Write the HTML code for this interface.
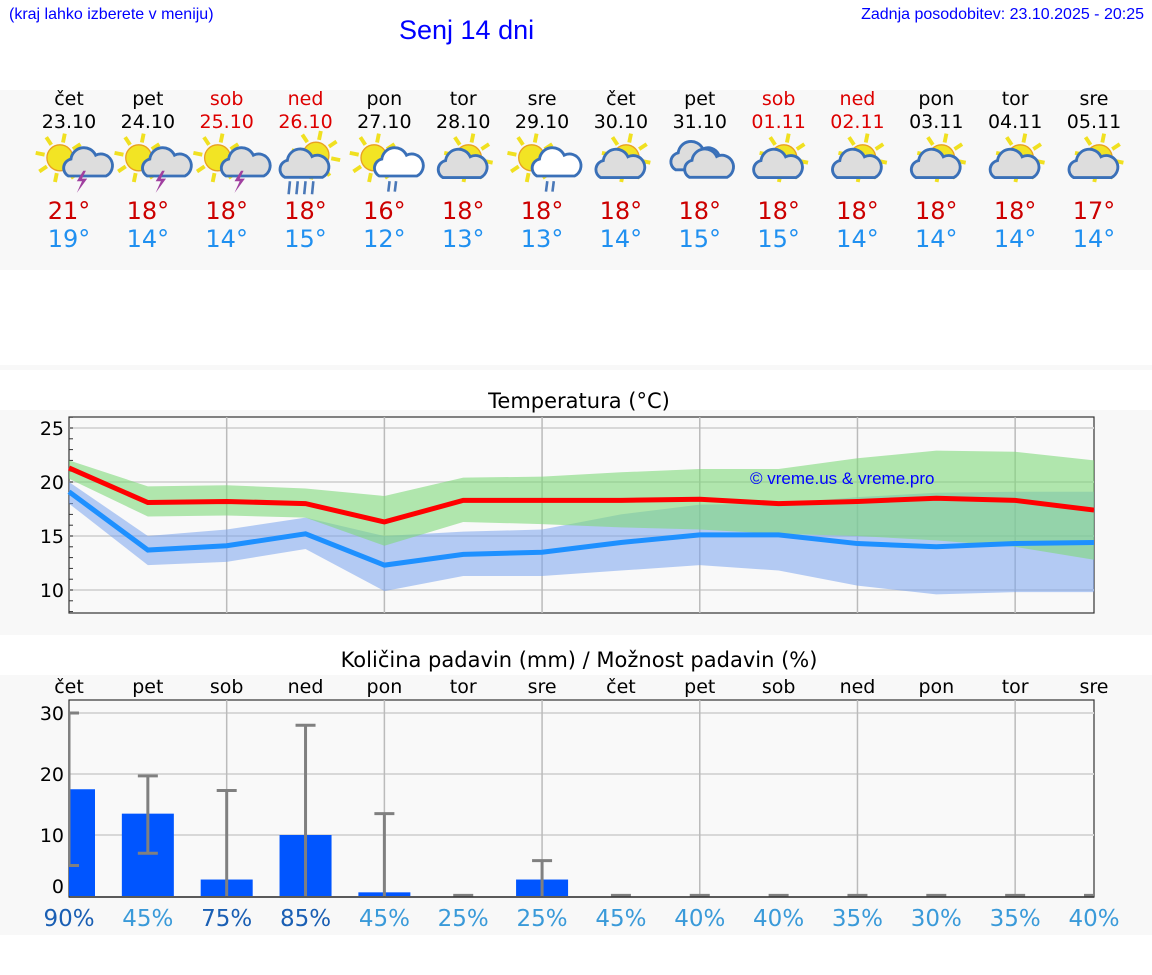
<!DOCTYPE html>
<html><head><meta charset="utf-8"><style>
body{margin:0;width:1152px;height:975px;background:#fff;font-family:"DejaVu Sans","Liberation Sans",sans-serif;position:relative;overflow:hidden}
.a{position:absolute}
.band{position:absolute;left:0;width:1152px;background:#f8f8f8}
.col{position:absolute;width:78px;text-align:center;transform:translateX(-39px)}
</style></head><body>
<div class="a" style="left:9px;top:6px;font-size:16px;color:#00f;font-family:'Liberation Sans',sans-serif">(kraj lahko izberete v meniju)</div>
<div class="a" style="left:399px;top:15px;font-size:27px;color:#00f;font-family:'Liberation Sans',sans-serif">Senj 14 dni</div>
<div class="a" style="right:8px;top:6px;font-size:16px;color:#00f;font-family:'Liberation Sans',sans-serif">Zadnja posodobitev: 23.10.2025 - 20:25</div>
<div class="band" style="top:90px;height:180px"></div>
<div class="band" style="top:365px;height:5px"></div>
<div class="band" style="top:410px;height:225px"></div>
<div class="band" style="top:675px;height:260px"></div>
<div id="days"></div>
<svg class="a" style="left:0;top:0" width="1152" height="975" id="svg"></svg>
<script>
const dayNames=["čet","pet","sob","ned","pon","tor","sre","čet","pet","sob","ned","pon","tor","sre"];
const dates=["23.10","24.10","25.10","26.10","27.10","28.10","29.10","30.10","31.10","01.11","02.11","03.11","04.11","05.11"];
const weekend=[0,0,1,1,0,0,0,0,0,1,1,0,0,0];
const icons=["st","st","st","cr","cr2","c","cr2","c","cc","c","c","c","c","c"];
const hiTemps=[21,18,18,18,16,18,18,18,18,18,18,18,18,17];
const loTemps=[19,14,14,15,12,13,13,14,15,15,14,14,14,14];
const maxT=[21.3,18.1,18.2,18.0,16.3,18.3,18.3,18.3,18.4,18.0,18.2,18.5,18.3,17.4];
const minT=[19.1,13.7,14.1,15.2,12.3,13.3,13.5,14.4,15.1,15.1,14.3,14.0,14.3,14.4];
const maxBandHi=[22.0,19.6,19.7,19.4,18.7,20.4,20.5,20.9,21.2,21.2,22.2,22.9,22.8,22.0];
const maxBandLo=[20.3,16.8,16.9,16.7,14.1,16.3,16.1,15.8,15.6,15.2,15.0,14.6,14.0,12.8];
const minBandHi=[20.0,15.0,15.6,16.7,15.0,15.4,15.6,17.0,17.9,18.0,18.6,19.0,19.1,19.1];
const minBandLo=[18.0,12.3,12.6,13.8,9.9,11.3,11.3,11.8,12.3,11.8,10.4,9.6,9.8,9.8];
const tempTicks=[10,15,20,25];
const precip=[17.5,13.5,2.7,10,0.6,0,2.7,0,0,0,0,0,0,0];
const errLo=[5,7,0,0,0,0,0,0,0,0,0,0,0,0];
const errHi=[30,19.7,17.3,28,13.5,0.1,5.8,0.1,0.1,0.1,0.1,0.1,0.1,0.1];
const chance=[90,45,75,85,45,25,25,45,40,40,35,30,35,40];
const precipTicks=[0,10,20,30];

const X=i=>69+i*1025/13;
const TY=v=>428+(25-v)*10.8;
const PY=v=>896-v*6.1;
const NS="http://www.w3.org/2000/svg";
const svg=document.getElementById('svg');
function mk(tag,attrs,parent){const e=document.createElementNS(NS,tag);for(const k in attrs)e.setAttribute(k,attrs[k]);(parent||svg).appendChild(e);return e;}

const days=document.getElementById('days');
for(let i=0;i<14;i++){
  const c=document.createElement('div');c.className='col';c.style.left=X(i)+'px';c.style.top='88px';
  
  
  const col=weekend[i]?'#d00':'#000';
  c.innerHTML=`<div style="font-size:19px;line-height:23px;color:${col}">${dayNames[i]}</div><div style="font-size:19px;line-height:23px;color:${col}">${dates[i]}</div><div style="height:63px"></div><div style="font-size:24px;line-height:28px;color:#c00">${hiTemps[i]}°</div><div style="font-size:24px;line-height:28px;color:#2090f0">${loTemps[i]}°</div>`;
  days.appendChild(c);
}
function sun(g,cx,cy,r){for(let k=0;k<8;k++){const a=k*Math.PI/4+0.2;mk('line',{x1:cx+Math.cos(a)*(r+2),y1:cy+Math.sin(a)*(r+2),x2:cx+Math.cos(a)*(r+9),y2:cy+Math.sin(a)*(r+9),stroke:'#f0e020','stroke-width':3},g);}mk('circle',{cx,cy,r,fill:'#f2e424',stroke:'#e8a020','stroke-width':1},g);}
function cloud(g,cx,cy,s,fill){mk('path',{d:`M${cx-14*s},${cy+8*s} a7 7 0 0 1 2,-13 a10 10 0 0 1 19,-3 a8 8 0 0 1 8,16 z`,fill,stroke:'#3a70b8','stroke-width':2.2},g);}
for(let i=0;i<14;i++){
  const x=X(i),y=160,t=icons[i];
  const g=mk('g',{transform:`translate(${x},${y+3}) scale(1.3) translate(${-x},${-y})`});
  
  
  if(t==='st'){sun(g,x-7,y-4,10);cloud(g,x+10,y+4,0.75,'#ddd');mk('path',{d:`M${x+11},${y+6} l-5,8 h4 l-4,9 l8,-11 h-4 l3,-6z`,fill:'#a040a0'},g);}
  else if(t==='cr'){sun(g,x+8,y-6,10);cloud(g,x-2,y+3,1,'#ddd');for(let k=0;k<4;k++)mk('line',{x1:x-12+k*6,y1:y+14,x2:x-13+k*6,y2:y+24,stroke:'#4a78b8','stroke-width':2},g);}
  else if(t==='cr2'){sun(g,x-8,y-4,10);cloud(g,x+10,y+2,1,'#fff');for(let k=0;k<2;k++)mk('line',{x1:x+4+k*5,y1:y+14,x2:x+3+k*5,y2:y+22,stroke:'#4a78b8','stroke-width':2},g);}
  else if(t==='c'){sun(g,x+4,y-4,10);cloud(g,x-3,y+4,0.9,'#ddd');}
  else {cloud(g,x-6,y-2,0.9,'#ddd');cloud(g,x+6,y+3,1,'#ddd');}
}

mk('text',{x:579,y:408,'font-size':21,'text-anchor':'middle',fill:'#000'}).textContent='Temperatura (°C)';
mk('rect',{x:69,y:417,width:1025,height:196,fill:'#f9f9f9',stroke:'#333','stroke-width':1.2});
tempTicks.forEach(v=>{mk('line',{x1:69,x2:1094,y1:TY(v),y2:TY(v),stroke:'#d8d8d8','stroke-width':2});const t=mk('text',{x:64,y:TY(v)+7,'font-size':19,'text-anchor':'end'});t.textContent=v;});
for(let v=8;v<=26;v++)mk('line',{x1:69,x2:73,y1:TY(v),y2:TY(v),stroke:'#333'});
for(let i=2;i<14;i+=2)mk('line',{x1:X(i),x2:X(i),y1:417,y2:613,stroke:'#bbb','stroke-width':1.5});
function band(hi,lo,fill,op){let d='';hi.forEach((v,i)=>d+=(i?'L':'M')+X(i)+','+TY(v));for(let i=lo.length-1;i>=0;i--)d+='L'+X(i)+','+TY(lo[i]);mk('path',{d:d+'Z',fill,'fill-opacity':op});}
band(minBandHi,minBandLo,'#7aa4ee',0.55);
band(maxBandHi,maxBandLo,'#7fd87a',0.6);
function line(arr,col){mk('polyline',{points:arr.map((v,i)=>X(i)+','+TY(v)).join(' '),fill:'none',stroke:col,'stroke-width':5});}
line(maxT,'#ff0000');line(minT,'#1e90ff');
mk('text',{x:750,y:484,'font-size':17,fill:'#0000ff','font-family':'Liberation Sans,sans-serif'}).textContent='© vreme.us & vreme.pro';

mk('text',{x:579,y:667,'font-size':21,'text-anchor':'middle'}).textContent='Količina padavin (mm) / Možnost padavin (%)';
dayNames.forEach((d,i)=>{mk('text',{x:X(i),y:693,'font-size':19,'text-anchor':'middle'}).textContent=d;});
mk('rect',{x:69,y:700,width:1025,height:197,fill:'#f9f9f9',stroke:'#333','stroke-width':1.2});
precipTicks.forEach(v=>{if(v>0)mk('line',{x1:69,x2:1094,y1:PY(v),y2:PY(v),stroke:'#d8d8d8','stroke-width':2});mk('text',{x:64,y:PY(v)+(v?7:-3),'font-size':19,'text-anchor':'end'}).textContent=v;});
for(let i=2;i<14;i+=2)mk('line',{x1:X(i),x2:X(i),y1:700,y2:897,stroke:'#bbb','stroke-width':1.5});
const clip=mk('clipPath',{id:'pc'});mk('rect',{x:69,y:700,width:1025,height:197},clip);
const pg=mk('g',{'clip-path':'url(#pc)'});
precip.forEach((v,i)=>{
  if(v>0){const b=mk('rect',{x:X(i)-26,y:PY(v),width:52,height:896-PY(v),fill:'#0055ff'},pg);
  
  }
  mk('line',{x1:X(i),x2:X(i),y1:PY(errLo[i]),y2:PY(errHi[i]),stroke:'#808080','stroke-width':3},pg);
  mk('line',{x1:X(i)-10,x2:X(i)+10,y1:PY(errHi[i]),y2:PY(errHi[i]),stroke:'#808080','stroke-width':3},pg);
  if(errLo[i]>0)mk('line',{x1:X(i)-10,x2:X(i)+10,y1:PY(errLo[i]),y2:PY(errLo[i]),stroke:'#808080','stroke-width':3},pg);
});
mk('line',{x1:69,x2:1094,y1:897,y2:897,stroke:'#333','stroke-width':1.5});
chance.forEach((c,i)=>{const t=mk('text',{x:X(i),y:926,'font-size':23,'text-anchor':'middle',fill:c>=70?'#1a5fb4':'#3a9ad9'});t.textContent=c+'%';});
</script>
</body></html>
